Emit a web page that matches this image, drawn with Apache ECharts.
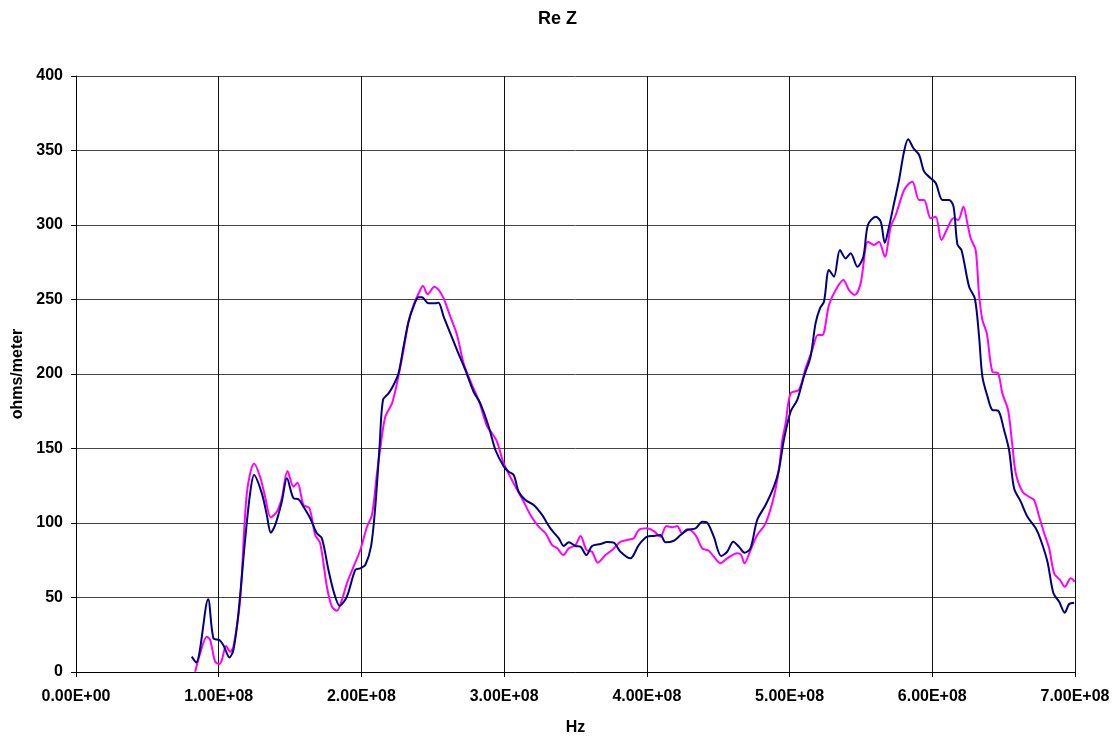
<!DOCTYPE html>
<html>
<head>
<meta charset="utf-8">
<title>Re Z</title>
<script src="https://cdn.jsdelivr.net/npm/echarts@6/dist/echarts.min.js"></script>
<style>
  html, body { margin: 0; padding: 0; background: #fff; }
  #main { width: 1115px; height: 736px; }
</style>
</head>
<body>
<div id="main"></div>
<script>
// frequencies are in MHz, values in ohms/meter
var navyFreq = [81.1, 84.2, 92.6, 96.3, 100.5, 103.3, 107.5, 110.3, 113.8, 118.5, 122, 124.8, 130.2, 133.7, 136.5, 139.6, 144.2, 147.8, 152.4, 155.9, 159.4, 164.1, 168.8, 172.3, 176.9, 180.9, 184.7, 189.8, 195.7, 199.2, 202.7, 206.7, 209.7, 212.7, 215.1, 219, 222.5, 226, 229.5, 233, 236.5, 240, 242.4, 247, 251.8, 254, 257.6, 262.3, 267, 272.8, 278.6, 283.3, 289.2, 293.9, 299.7, 303.2, 306.7, 310.2, 314.9, 320.7, 326.6, 332.4, 338.3, 341.8, 345.3, 350, 353.5, 357.7, 361.6, 367.5, 372.2, 376.8, 381.5, 388.5, 394.3, 400.2, 404.9, 409.5, 413.1, 418.9, 423.6, 428.3, 434.1, 438.8, 442.3, 446.9, 452.1, 456.3, 460.5, 464.5, 468.4, 472.6, 477.3, 483.2, 489, 492.5, 496, 500.7, 505.4, 510, 514.7, 518.2, 521.3, 524.1, 527.6, 531.1, 535.3, 539.3, 542.8, 547.5, 551.7, 554.9, 560.4, 563.9, 566.7, 569.7, 573.2, 576.7, 580.2, 583.1, 586.8, 590.8, 594.3, 599, 602.5, 607.2, 611.8, 614.9, 617.6, 620.5, 625.8, 629.8, 632.8, 635.1, 638.7, 642.2, 646.1, 650.3, 653.8, 657.3, 662, 666.7, 672.5, 676, 680.7, 684.9, 688.9, 692.8, 695.9, 699.4];
var navyVals = [10.3, 6.3, 48.8, 22.6, 21.5, 18, 9.8, 14.8, 39.4, 88.6, 119.9, 132.2, 119.9, 105.4, 93.5, 98.7, 114.3, 130, 116.6, 115.9, 110.9, 103.2, 93.1, 89.7, 68.5, 52.8, 44.5, 50.5, 68.5, 69.6, 71.8, 84.1, 110.9, 151.2, 182.6, 187, 192.6, 200.5, 218.3, 235.1, 245.2, 251.5, 251.5, 247.4, 247.4, 247.9, 238.5, 227.3, 216.1, 202.7, 188.1, 180.3, 164.6, 149, 138, 134.4, 132.2, 121, 115.4, 112.1, 105.4, 96.4, 89.7, 84.6, 87, 84.6, 84.1, 78.5, 84.6, 85.9, 87.2, 86.8, 80.7, 76.3, 85.2, 90.8, 91.3, 91.9, 87, 88.1, 91.9, 95.3, 96.4, 100.9, 100.2, 90.8, 77.9, 80.7, 87.4, 84.1, 80.1, 83, 102, 112.1, 124.4, 135.6, 155.7, 174.7, 182.6, 198.2, 211.6, 234, 244.1, 248.5, 269.8, 265.3, 283.2, 277.6, 281, 272, 278.7, 300, 305.6, 302.2, 288.1, 298.9, 314.6, 330.2, 349.2, 357.5, 351.5, 347, 335.8, 331.3, 328, 316.8, 316.8, 312.3, 287, 283, 258.6, 250.8, 225, 198.2, 184.8, 175.8, 175.4, 162.4, 149, 123.3, 114.3, 104.2, 96.4, 88.6, 74, 52.8, 47.2, 39.8, 45.6, 46.5];

var pinkFreq = [83.5, 87, 91.6, 94, 97.5, 100.5, 102.2, 105.2, 108, 110.3, 115, 119.7, 124.8, 129, 132.5, 136.5, 140.7, 144.2, 148.2, 152.4, 155.2, 159.4, 163.6, 167.6, 171.1, 175.8, 179.3, 182.8, 186.3, 189.8, 194.5, 199.2, 203.9, 207.4, 210.9, 213.2, 216.7, 221.4, 224.9, 229.5, 233, 236.5, 241.2, 243.1, 246.4, 251.1, 254.1, 257.6, 262.3, 267, 271.6, 277.5, 282.1, 288, 291.5, 295, 299.7, 307.9, 313.7, 318.4, 324.2, 329, 333.6, 337.2, 341.4, 345.3, 350, 353.5, 357.7, 361.6, 365.6, 371, 375.7, 381.5, 386.2, 390.8, 394.3, 400.2, 404.9, 409.5, 413.7, 417.7, 421.2, 424.7, 428.3, 434.1, 438.8, 443.4, 446.9, 451.6, 456.3, 463.3, 466.1, 468.4, 472.2, 477.3, 483.2, 489, 492.5, 494.9, 497.2, 500.7, 506.5, 511.2, 515.9, 519.8, 522.9, 527.6, 532.3, 537.7, 541.6, 545.6, 549.8, 554.9, 559.1, 562.6, 566.7, 570.9, 574.4, 577.8, 580, 582.6, 586.1, 590.7, 594.2, 598.9, 602.4, 606.4, 610.6, 614.8, 618.1, 621.8, 624.6, 626.9, 630.4, 632.7, 635.1, 638.2, 642.1, 646.1, 649.1, 653.1, 656.2, 658.5, 663.2, 667.8, 671.3, 674.9, 678.4, 681.9, 685.4, 689.6, 692.8, 697, 699.9];
var pinkVals = [0.2, 12.5, 23.7, 21.5, 6.9, 5.4, 8.1, 17.4, 13.6, 17, 48.3, 119.9, 140, 131, 117.6, 103.8, 107.6, 116.6, 134.9, 124.4, 127, 112.1, 109.9, 91.9, 86.4, 57.2, 43.8, 41.1, 48.3, 59.5, 70.7, 81.9, 97.5, 105.4, 133.4, 150, 171.3, 180.3, 193.8, 216.1, 235.1, 246.3, 256.4, 259, 253.5, 258.6, 256.4, 250.8, 238.5, 226.2, 207.2, 192.6, 182.6, 165, 160.2, 154.6, 140, 124.4, 114.3, 105.4, 97.5, 93.1, 85.2, 83, 78.5, 83, 85.2, 91.3, 81.9, 80.7, 73.4, 78.5, 81.9, 87.4, 88.6, 89.7, 95.3, 96.4, 94.6, 90.8, 98, 97.1, 98, 93.1, 95.8, 91.9, 83, 81.4, 77.4, 73, 76.3, 79.7, 78.5, 73, 80.7, 91.9, 99.8, 117.6, 135.6, 155.7, 166.9, 187, 189.3, 203.8, 216.1, 226.2, 226.2, 246.3, 256.4, 263.1, 256.4, 253, 260.9, 288.8, 286.6, 288.8, 278.7, 298.9, 306.7, 317, 323, 326.8, 329.1, 316.8, 316.8, 304.5, 305.6, 289.9, 297.8, 304.5, 303.4, 312.3, 301.1, 291.1, 283.2, 254.2, 236.2, 227.3, 201.5, 200.5, 187, 175.8, 151.2, 133.4, 121, 117.6, 115.4, 104.2, 93.1, 83, 66.2, 61.7, 57.2, 62.9, 60.6];

var xTicks = [0, 1e8, 2e8, 3e8, 4e8, 5e8, 6e8, 7e8];

function pairs(freq, vals) {
    return freq.map(function (f, i) {
        return [f * 1e6, vals[i]];
    });
}

// 1.00E+08 style labels
function sci(v) {
    var s = Number(v).toExponential(2).toUpperCase();
    var parts = s.split('E');
    var exp = parseInt(parts[1], 10);
    var sign = exp < 0 ? '-' : '+';
    exp = Math.abs(exp);
    return parts[0] + 'E' + sign + (exp < 10 ? '0' + exp : exp);
}

var myChart = echarts.init(document.getElementById('main'));

var labelFont = {
    fontFamily: 'Liberation Sans, Arial, sans-serif',
    fontWeight: 'bold',
    fontSize: 16,
    color: '#000'
};

var option = {
    backgroundColor: '#fff',
    animation: false,
    title: {
        text: 'Re Z',
        left: 'center',
        top: 5,
        textStyle: {
            fontFamily: 'Liberation Sans, Arial, sans-serif',
            fontWeight: 'bold',
            fontSize: 18,
            color: '#000'
        }
    },
    grid: {
        left: 76,
        right: 40,
        top: 76,
        bottom: 64,
        containLabel: false,
        outerBoundsMode: 'none'
    },
    xAxis: {
        type: 'value',
        min: xTicks[0],
        max: xTicks[xTicks.length - 1],
        interval: 1e8,
        name: 'Hz',
        nameLocation: 'middle',
        nameGap: 48,
        nameTextStyle: labelFont,
        axisLine: { show: true, onZero: false, lineStyle: { color: '#000', width: 1 } },
        axisTick: { show: true, inside: false, length: 5, lineStyle: { color: '#000' } },
        axisLabel: Object.assign({ margin: 17, formatter: sci }, labelFont),
        splitLine: { show: true, lineStyle: { color: '#111', width: 1 } }
    },
    yAxis: {
        type: 'value',
        min: 0,
        max: 400,
        interval: 50,
        name: 'ohms/meter',
        nameLocation: 'middle',
        nameGap: 48,
        nameRotate: 90,
        nameTextStyle: labelFont,
        axisLine: { show: true, lineStyle: { color: '#000', width: 1 } },
        axisTick: { show: true, inside: false, length: 5, lineStyle: { color: '#000' } },
        axisLabel: Object.assign({ margin: 13 }, labelFont),
        splitLine: { show: true, lineStyle: { color: '#444', width: 1 } }
    },
    series: [
        {
            name: 'Re Z (a)',
            type: 'line',
            data: pairs(navyFreq, navyVals),
            showSymbol: false,
            smooth: 0.3,
            lineStyle: { color: '#000080', width: 2 },
            itemStyle: { color: '#000080' },
            z: 3
        },
        {
            name: 'Re Z (b)',
            type: 'line',
            data: pairs(pinkFreq, pinkVals),
            showSymbol: false,
            smooth: 0.3,
            lineStyle: { color: '#FF00FF', width: 2 },
            itemStyle: { color: '#FF00FF' },
            z: 2
        }
    ]
};

myChart.setOption(option);
</script>
</body>
</html>
